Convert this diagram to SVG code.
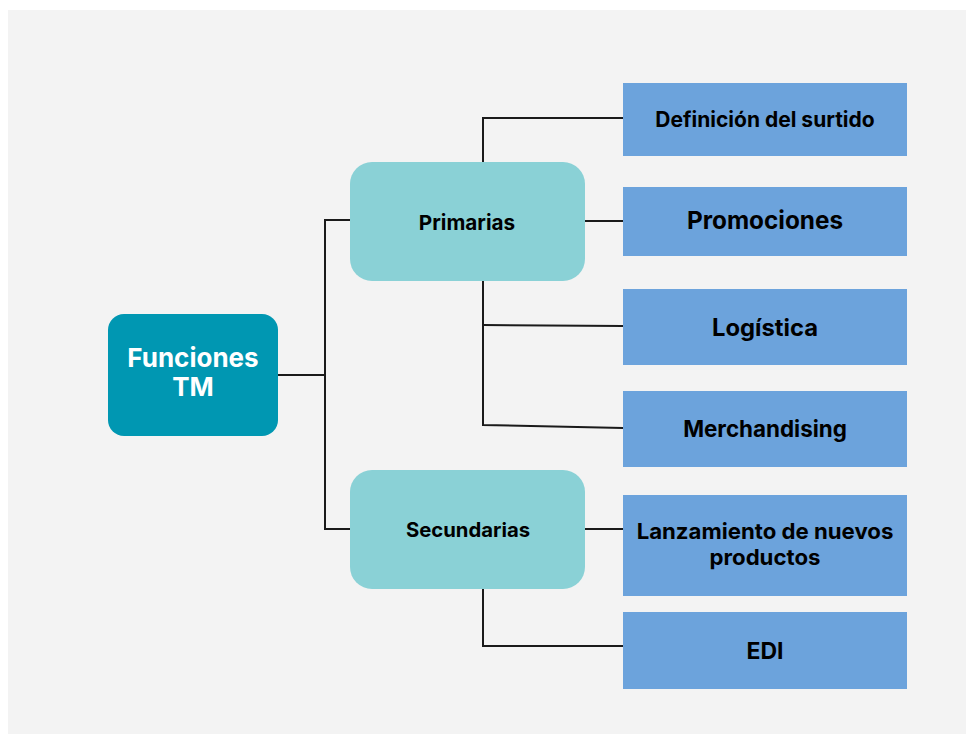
<svg xmlns="http://www.w3.org/2000/svg" width="966" height="734" viewBox="0 0 966 734">
<style>
.t{font-family:Inter,"Liberation Sans",Arial,sans-serif;font-weight:bold;text-anchor:middle;fill:#000}
.w{fill:#fff}
.leaf{fill:#6ca3dc}
.mid{fill:#8ad1d6}
.c{stroke:#1a1a1a;stroke-width:2;fill:none}
</style>
<rect x="0" y="0" width="966" height="734" fill="#ffffff"/>
<rect x="8" y="10" width="958" height="724" fill="#f3f3f3"/>
<g id="connectors">
<polyline class="c" points="278,375 325,375"/>
<polyline class="c" points="350,220 325,220 325,529 350,529"/>
<polyline class="c" points="483,162 483,118 623,118"/>
<line class="c" x1="585" y1="221" x2="623" y2="221"/>
<polyline class="c" points="483,281 483,425 623,428"/>
<line class="c" x1="483" y1="325" x2="623" y2="326"/>
<line class="c" x1="585" y1="529" x2="623" y2="529"/>
<polyline class="c" points="483,589 483,646 623,646"/>
</g>
<g id="root">
<rect x="108" y="314" width="170" height="122" rx="16" fill="#0097b2"/>
<text class="t w" x="193" y="367" font-size="26">Funciones</text>
<text class="t w" x="193" y="396" font-size="26">TM</text>
</g>
<g id="primarias">
<rect class="mid" x="350" y="162" width="235" height="119" rx="22"/>
<text class="t" x="467" y="230" font-size="20.7">Primarias</text>
</g>
<g id="secundarias">
<rect class="mid" x="350" y="470" width="235" height="119" rx="22"/>
<text class="t" x="468" y="537" font-size="20.3">Secundarias</text>
</g>
<g id="definicion">
<rect class="leaf" x="623" y="83" width="284" height="73"/>
<text class="t" x="765" y="127" font-size="21">Definición del surtido</text>
</g>
<g id="promociones">
<rect class="leaf" x="623" y="187" width="284" height="69"/>
<text class="t" x="765" y="229" font-size="24.3">Promociones</text>
</g>
<g id="logistica">
<rect class="leaf" x="623" y="289" width="284" height="76"/>
<text class="t" x="765" y="336" font-size="23.8">Logística</text>
</g>
<g id="merchandising">
<rect class="leaf" x="623" y="391" width="284" height="76"/>
<text class="t" x="765" y="437" font-size="22.4">Merchandising</text>
</g>
<g id="lanzamiento">
<rect class="leaf" x="623" y="495" width="284" height="101"/>
<text class="t" x="765" y="539" font-size="22.2">Lanzamiento de nuevos</text>
<text class="t" x="765" y="565" font-size="22.2">productos</text>
</g>
<g id="edi">
<rect class="leaf" x="623" y="612" width="284" height="77"/>
<text class="t" x="765" y="659" font-size="23">EDI</text>
</g>
</svg>
